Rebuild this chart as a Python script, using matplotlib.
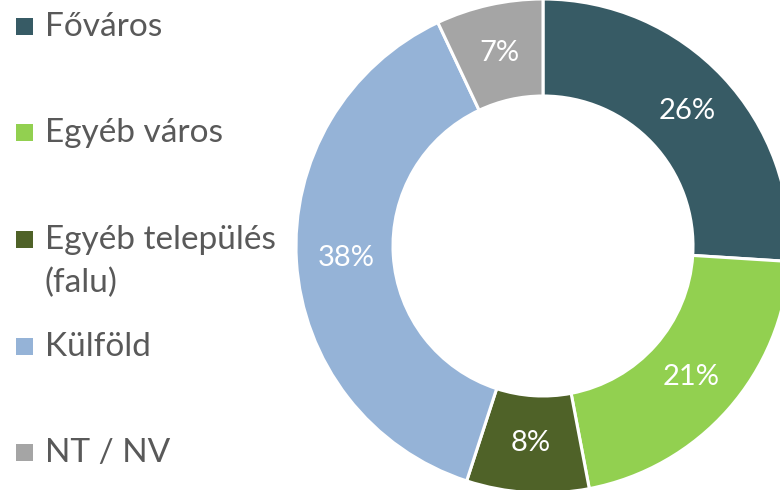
import matplotlib
matplotlib.use("Agg")
import matplotlib.pyplot as plt
from matplotlib.patches import Rectangle

categories = ["Főváros", "Egyéb város", "Egyéb település\n(falu)", "Külföld", "NT / NV"]
values = [26, 21, 8, 38, 7]
colors = ["#375B65", "#92D050", "#4F6228", "#95B3D7", "#A5A5A5"]

W, H = 780, 490
fig = plt.figure(figsize=(W / 100, H / 100), dpi=100)
ax = fig.add_axes([0, 0, 1, 1])

font = "Lato"
cx, cy, R, r_in = 543, H - 246, 247, 150
wedges, texts, autotexts = ax.pie(
    values, colors=colors, startangle=90, counterclock=False,
    center=(cx, cy), radius=R, frame=True,
    wedgeprops=dict(width=R - r_in, edgecolor="white", linewidth=2.2),
    autopct=lambda p: f"{p:.0f}%", pctdistance=0.80,
    textprops=dict(color="white", fontsize=21, family=font),
)
ax.set_xlim(0, W)
ax.set_ylim(0, H)
ax.set_aspect("equal")
ax.axis("off")

# legend
ys = [27, 133, 240, 347, 453]
for lab, col, y in zip(categories, colors, ys):
    ax.add_patch(Rectangle((16, H - y - 8.5), 17, 17, facecolor=col, edgecolor="none"))
    lines = lab.split("\n")
    ax.text(45, H - y, lines[0], va="center", ha="left",
            fontsize=24, color="#595959", family=font)
    if len(lines) > 1:
        ax.text(45, H - y - 43, lines[1], va="center", ha="left",
                fontsize=24, color="#595959", family=font)

fig.savefig("out.png", dpi=100)
